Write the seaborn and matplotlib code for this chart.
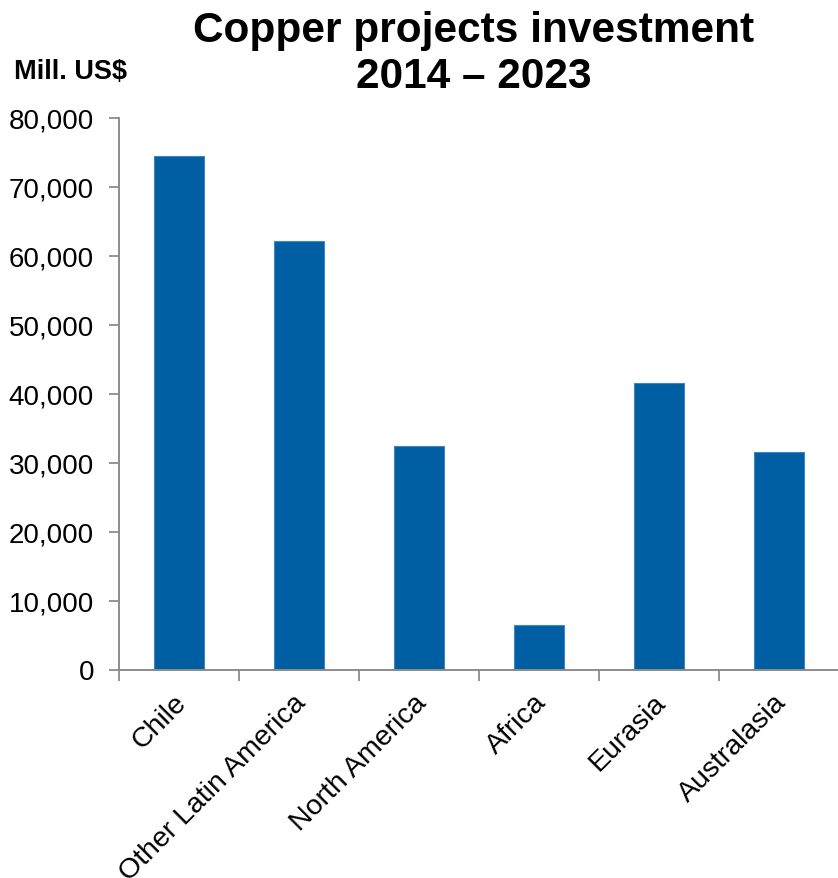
import matplotlib
matplotlib.use("Agg")
import matplotlib.pyplot as plt
import matplotlib.transforms as mtransforms
import seaborn as sns
import pandas as pd

# Copper project investment by region, 2014-2023 (million US$)
regions = ["Chile", "Other Latin America", "North America", "Africa", "Eurasia", "Australasia"]
investment = [74400, 62100, 32400, 6400, 41500, 31500]
y_ticks = [0, 10000, 20000, 30000, 40000, 50000, 60000, 70000, 80000]

df = pd.DataFrame({"region": regions, "investment": investment})

sns.set_theme(style="white")
plt.rcParams["font.family"] = ["Liberation Sans", "DejaVu Sans"]
plt.rcParams["text.color"] = "black"
plt.rcParams["xtick.color"] = "black"
plt.rcParams["ytick.color"] = "black"

W, H = 838, 879
fig = plt.figure(figsize=(W / 100, H / 100), dpi=100)
ax = fig.add_axes([119 / W, (H - 670.5) / H, 720 / W, 552 / H])

sns.barplot(data=df, x="region", y="investment", color="#005FA3",
            width=0.41, saturation=1, edgecolor="#3F86C0", linewidth=0.8, ax=ax)

ax.set_xlim(-0.5, len(regions) - 0.5)
ax.set_ylim(0, 80000)
ax.set_yticks(y_ticks)
ax.set_yticklabels([f"{v:,}" for v in y_ticks], fontsize=20)

# tick marks sit between categories, labels sit under the bars
ax.set_xticks([i - 0.5 for i in range(len(regions) + 1)])
ax.set_xticklabels([])
ax.set_xticks(range(len(regions)), minor=True)
ax.set_xticklabels(regions, minor=True, rotation=45, ha="right",
                   va="top", rotation_mode="anchor", fontsize=20.5)
ax.tick_params(axis="x", which="minor", bottom=True, length=0, pad=14)
ax.tick_params(axis="x", which="major", bottom=True, length=8, width=1.3,
               color="#8C8C8C", direction="out")
ax.tick_params(axis="y", left=True, length=7, width=1.3, color="#8C8C8C",
               labelcolor="black", direction="out", pad=11)

shift = mtransforms.ScaledTranslation(-6 / 100, 0, fig.dpi_scale_trans)
for lbl in ax.get_xticklabels(minor=True):
    lbl.set_transform(lbl.get_transform() + shift)

for side in ["top", "right"]:
    ax.spines[side].set_visible(False)
for side in ["left", "bottom"]:
    ax.spines[side].set_color("#8C8C8C")
    ax.spines[side].set_linewidth(1.4)

ax.set_xlabel("")
ax.set_ylabel("")
ax.grid(False)

fig.text(474 / W, 1 - 11 / H, "Copper projects investment\n2014 \u2013 2023",
         ha="center", va="top", fontsize=30.5, fontweight="bold", linespacing=1.2,
         color="black")
fig.text(14 / W, 1 - 79 / H, "Mill. US$", ha="left", va="baseline",
         fontsize=19.5, fontweight="bold", color="black")

fig.savefig("out.png", dpi=100)
